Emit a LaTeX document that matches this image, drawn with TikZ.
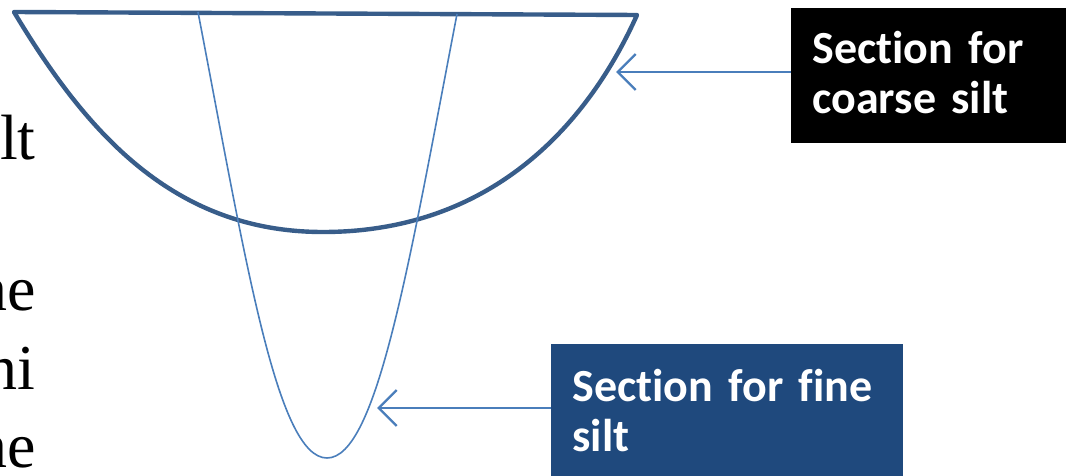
\documentclass[tikz,border=0pt]{standalone}
\usepackage{fontspec}
\setmainfont{Liberation Serif}
\newfontfamily\labelfont[Ligatures=NoCommon]{Carlito}
\usetikzlibrary{arrows.meta}
\definecolor{bowlblue}{RGB}{56,93,138}
\definecolor{lineblue}{RGB}{74,126,187}
\definecolor{boxblue}{RGB}{31,73,125}
\tikzset{
  bowlline/.style={draw=bowlblue,line width=2.2pt,line join=round,line cap=round},
  fineline/.style={draw=lineblue,line width=0.8pt},
  pointer/.style={draw=lineblue,line width=1.2pt,-{Straight Barb[length=9pt,width=18pt,line width=1.2pt]}},
  labelbox/.style={anchor=north west,inner xsep=10.5pt,inner ysep=0pt,align=left,text=white,
    font=\labelfont\bfseries\fontsize{23}{25}\selectfont},
  slidetext/.style={anchor=base east,inner sep=0pt,font=\fontsize{32}{36}\selectfont},
}

\begin{document}
\begin{tikzpicture}[x=0.5pt,y=-0.5pt]
    \useasboundingbox (0,0) rectangle (1066,476);
    % cut-off slide text on the left
    \node[slidetext] (txta) at (36,160) {lt};
    \node[slidetext] (txtb) at (36,310) {ne};
    \node[slidetext] (txtc) at (36,389) {ni};
    \node[slidetext] (txtd) at (36,467) {ne};
    % the two sections
    \coordinate (topL) at (14,12);
    \coordinate (topR) at (637,15);
    \coordinate (bowlbot) at (323,232);
    \draw[bowlline] (topL) -- (topR) .. controls (583,135) and (483,232) .. (bowlbot)
      .. controls (173,232) and (86,132) .. cycle;
    \draw[fineline] (198,12) .. controls (246,262) and (277,458) .. (327,458)
      .. controls (377,458) and (409,264) .. (457,14);
    % labels
    \node[labelbox,fill=black,text width=116.5pt,minimum height=67.5pt] (coarse) at (791,8)
      {Section for\\coarse silt\rule[-4pt]{0pt}{4pt}};
    \node[labelbox,fill=boxblue,text width=155pt,minimum height=66pt] (fine) at (551,344)
      {Section for fine\\silt};
    \coordinate (tipA) at (616,72);
    \coordinate (tipB) at (377,408);
    \draw[pointer] (coarse.west |- tipA) -- (tipA);
    \draw[pointer] (fine.west |- tipB) -- (tipB);
  \end{tikzpicture}
\end{document}
